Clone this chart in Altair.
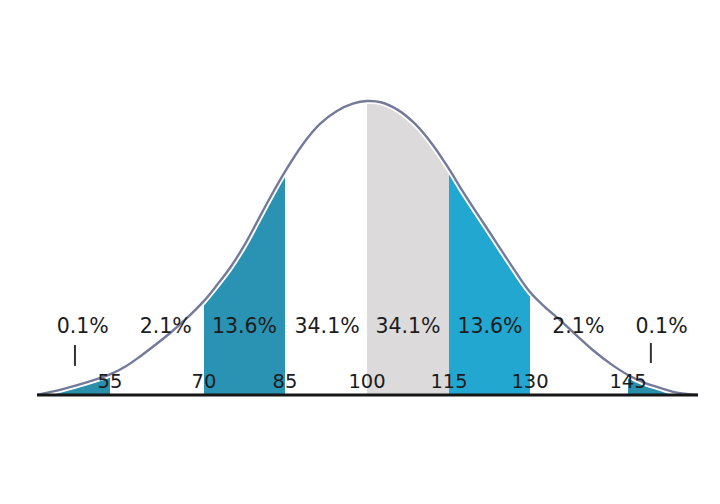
import altair as alt
import pandas as pd

# Curve: IQ value and relative height (peak = 1)
curve_x = [40, 45.3, 50, 55, 57.4, 59.8, 62.2, 64.6, 67.3, 70, 72.4, 74.8, 77.4, 79.8, 82.2, 85, 88.3,
           91.4, 94.5, 97.4, 100, 102.7, 105.7, 108.8, 111.9, 115, 117.4, 119.8, 122, 125.9, 130,
           132.3, 134.6, 137.2, 139.6, 142.4, 145, 148.6, 151.9, 155.8, 160]
curve_h = [0.0, 0.02, 0.042, 0.07, 0.096, 0.131, 0.170, 0.211, 0.262, 0.320, 0.374, 0.432, 0.507,
           0.588, 0.670, 0.760, 0.854, 0.922, 0.966, 0.991, 1.0, 0.995, 0.969, 0.922, 0.854, 0.769,
           0.697, 0.629, 0.568, 0.459, 0.350, 0.299, 0.255, 0.201, 0.153, 0.105, 0.068, 0.041,
           0.024, 0.007, 0.0]

# Shaded bands
band_lo = [40, 70, 100, 115, 145]
band_hi = [55, 85, 115, 130, 160]
band_color = ["#2a8fab", "#2a93b3", "#dcdadb", "#22a7d0", "#2a8fab"]

# Percentage labels
pct_text = ["0.1%", "2.1%", "13.6%", "34.1%", "34.1%", "13.6%", "2.1%", "0.1%"]
pct_x = [49.4, 63.9, 77.5, 92.7, 107.5, 122.6, 137.4, 152.2]

# Tick labels
tick_vals = [55, 70, 85, 100, 115, 130, 145]

# Small marker lines under the 0.1% labels
marker_x = [47.8, 149.9]
marker_top = [0.17, 0.177]
marker_bot = [0.099, 0.109]

curve = pd.DataFrame({"x": curve_x, "h": curve_h})

band_rows = []
for i, (lo, hi, col) in enumerate(zip(band_lo, band_hi, band_color)):
    for xv, hv in zip(curve_x, curve_h):
        if lo <= xv <= hi:
            band_rows.append({"band": i, "x": xv, "h": hv, "color": col})
bands = pd.DataFrame(band_rows)

pct = pd.DataFrame({"x": pct_x, "t": pct_text, "y": [0.211] * len(pct_x)})
ticks = pd.DataFrame({"x": tick_vals, "t": [str(v) for v in tick_vals], "y": [0.024] * len(tick_vals)})
markers = pd.DataFrame({"x": marker_x, "y": marker_top, "y2": marker_bot})
base = pd.DataFrame({"x": [40], "x2": [160], "y": [0]})

xs = alt.Scale(domain=[40, 55, 70, 85, 100, 115, 130, 145, 160],
               range=[29, 102, 196, 277, 359, 441, 522, 620, 690], nice=False, zero=False)
ys = alt.Scale(domain=[0, 1], range=[387, 93], nice=False, zero=False)

X = lambda f="x": alt.X(f"{f}:Q", scale=xs, axis=None)
Y = lambda f="h": alt.Y(f"{f}:Q", scale=ys, axis=None)

INTERP = "catmull-rom"

layers = []
for i, col in enumerate(band_color):
    layers.append(
        alt.Chart(bands[bands.band == i]).mark_area(interpolate=INTERP, color=col, opacity=1)
        .encode(x=X(), y=Y())
    )

halo = alt.Chart(curve).mark_line(interpolate=INTERP, color="white", strokeWidth=6).encode(x=X(), y=Y())
line = alt.Chart(curve).mark_line(interpolate=INTERP, color="#737a9a", strokeWidth=2.4).encode(x=X(), y=Y())

baseline = alt.Chart(base).mark_rule(color="#161616", strokeWidth=3).encode(
    x=X(), x2="x2:Q", y=Y("y"))

mk = alt.Chart(markers).mark_rule(color="#333333", strokeWidth=2).encode(
    x=X(), y=Y("y"), y2="y2:Q")

pct_layer = alt.Chart(pct).mark_text(font="DejaVu Sans", fontSize=20.5, color="#1c1c1c",
                                     baseline="alphabetic", align="center").encode(
    x=X(), y=Y("y"), text="t:N")
tick_layer = alt.Chart(ticks).mark_text(font="DejaVu Sans", fontSize=19.5, color="#1c1c1c",
                                        baseline="alphabetic", align="center").encode(
    x=X(), y=Y("y"), text="t:N")

chart = alt.layer(*layers, halo, line, baseline, mk, pct_layer, tick_layer).properties(
    width=704, height=488, padding=0, background="white"
).configure_view(stroke=None)

chart.save("out.html", embed_options={"renderer": "svg", "actions": False})
